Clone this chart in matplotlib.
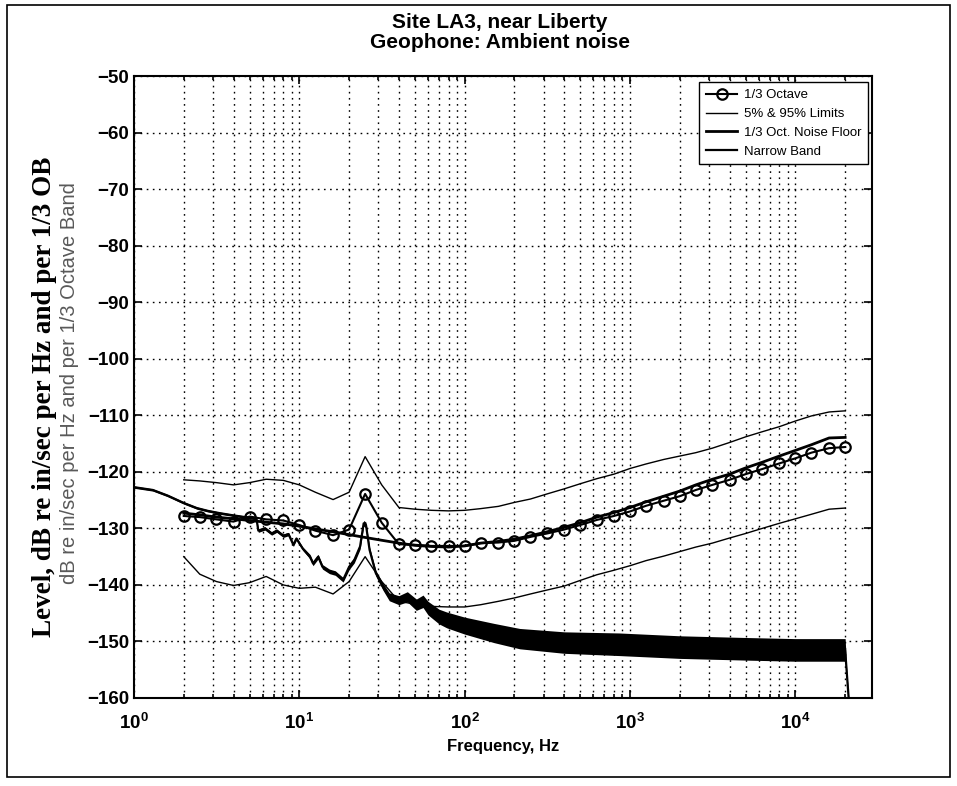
import numpy as np
import matplotlib
matplotlib.use('Agg')
import matplotlib.pyplot as plt
from matplotlib.patches import Rectangle

plt.rcParams['font.family'] = ['Liberation Sans', 'DejaVu Sans']
plt.rcParams['mathtext.fontset'] = 'custom'
plt.rcParams['mathtext.rm'] = 'Liberation Sans'
plt.rcParams['mathtext.bf'] = 'Liberation Sans:bold'

# 1/3 octave band centre frequencies, Hz
band_freq = [2, 2.5, 3.15, 4, 5, 6.3, 8, 10, 12.5, 16, 20, 25, 31.5, 40, 50, 63, 80,
             100, 125, 160, 200, 250, 315, 400, 500, 630, 800, 1000, 1250, 1600, 2000,
             2500, 3150, 4000, 5000, 6300, 8000, 10000, 12500, 16000, 20000]
third_oct = [-127.8, -128.0, -128.4, -128.8, -127.9, -128.4, -128.6, -129.4, -130.4, -131.2,
             -130.2, -123.9, -129.0, -132.8, -132.9, -133.1, -133.1, -133.1, -132.6, -132.5,
             -132.2, -131.5, -130.9, -130.2, -129.4, -128.5, -127.8, -127.0, -126.0, -125.1,
             -124.3, -123.2, -122.3, -121.4, -120.4, -119.5, -118.5, -117.6, -116.6, -115.8,
             -115.6]
lim95 = [-121.4, -121.6, -121.9, -122.3, -121.9, -121.3, -121.5, -122.3, -123.6, -124.9,
         -123.6, -117.3, -122.3, -126.3, -126.6, -126.8, -126.9, -126.8, -126.5, -126.1,
         -125.4, -124.8, -123.9, -123.0, -122.1, -121.2, -120.4, -119.4, -118.6, -117.8,
         -117.2, -116.6, -115.8, -114.8, -113.8, -112.9, -112.0, -111.0, -110.1, -109.4,
         -109.2]
lim5 = [-135.0, -138.1, -139.4, -140.1, -139.6, -138.5, -140.0, -140.6, -140.4, -141.6,
        -139.4, -135.0, -139.4, -142.9, -143.4, -143.8, -143.9, -143.9, -143.5, -142.9,
        -142.3, -141.6, -140.9, -140.2, -139.2, -138.2, -137.4, -136.6, -135.7, -134.9,
        -134.1, -133.3, -132.6, -131.7, -130.9, -130.0, -129.1, -128.3, -127.5, -126.6,
        -126.4]
noise_floor = [-127.3, -127.6, -128.0, -128.3, -128.6, -128.9, -129.2, -129.6, -130.1, -130.6,
               -131.1, -131.6, -132.1, -132.6, -133.0, -133.2, -133.3, -133.1, -132.6, -132.3,
               -131.9, -131.3, -130.6, -129.8, -129.0, -128.0, -127.2, -126.3, -125.3, -124.3,
               -123.4, -122.3, -121.3, -120.4, -119.3, -118.3, -117.2, -116.2, -115.2, -114.0,
               -113.9]

# narrow band spectrum (centre of the trace and half width of its noise)
nb_freq = [1, 1.3, 1.6, 2.0, 2.4, 2.8, 3.3, 4.0, 4.7, 5.5, 5.65, 6.2, 6.8, 7.3, 8.0, 8.6,
           9.2, 9.6, 10.5, 11.6, 12.1, 13.0, 13.8, 15.2, 16.5, 18.4, 20.0, 21.5, 23.3, 24.5,
           25.3, 26.6, 29, 32, 35, 40, 45, 51, 56, 60, 70, 78, 100, 150, 215, 400, 860, 2000,
           5000, 10000, 15000, 20000, 20400, 21000, 21700]
nb_level = [-122.7, -123.2, -124.2, -125.5, -126.4, -126.9, -127.3, -127.7, -128.0, -128.2,
            -130.4, -130.0, -130.9, -130.4, -131.3, -131.0, -132.9, -131.8, -133.6, -135.0,
            -136.2, -135.0, -136.8, -137.6, -137.9, -139.1, -136.8, -135.6, -133.2, -129.1,
            -129.4, -133.8, -137.9, -140.3, -142.1, -142.7, -142.1, -143.5, -142.9, -144.1,
            -145.6, -146.2, -147.2, -148.5, -149.5, -150.2, -150.5, -151.0, -151.3, -151.5,
            -151.5, -151.5, -155.0, -160.0, -165.0]
nb_spread = [0.2, 0.2, 0.2, 0.2, 0.2, 0.2, 0.2, 0.2, 0.2, 0.3, 0.3, 0.3, 0.3, 0.3, 0.3, 0.3,
             0.3, 0.3, 0.3, 0.4, 0.4, 0.4, 0.4, 0.4, 0.4, 0.4, 0.5, 0.5, 0.5, 0.5, 0.5, 0.5,
             0.5, 0.6, 0.7, 0.8, 0.9, 1.0, 1.1, 1.2, 1.3, 1.4, 1.5, 1.7, 1.8, 1.9, 2.0, 2.0,
             2.0, 2.0, 2.0, 2.0, 0.5, 0.3, 0.3]

fig = plt.figure(figsize=(9.57, 7.86), dpi=100)
ax = fig.add_axes([0.140, 0.112, 0.771, 0.791])

nb_f = np.array(nb_freq)
nb_l = np.array(nb_level)
nb_s = np.array(nb_spread)
ax.fill_between(nb_f, nb_l - nb_s, nb_l + nb_s, color='black', lw=0)
ax.plot(band_freq, third_oct, '-o', color='black', lw=1.5, ms=7.5, mfc='none', mew=1.6,
        label='1/3 Octave')
ax.plot(band_freq, lim95, '-', color='black', lw=1.0, label='5% & 95% Limits')
ax.plot(band_freq, lim5, '-', color='black', lw=1.0)
ax.plot(band_freq, noise_floor, '-', color='black', lw=2.0, label='1/3 Oct. Noise Floor')
ax.plot(nb_f, nb_l, '-', color='black', lw=1.6, label='Narrow Band')

ax.set_xscale('log')
ax.set_xlim(1, 2.9e4)
ax.set_ylim(-160, -50)
ax.set_yticks(np.arange(-160, -49, 10))
ax.set_xticks([1, 10, 100, 1000, 10000])
ax.set_xticklabels([r'$\mathbf{10^{%d}}$' % k for k in range(5)])
dots = (0, (1.2, 3.2))
ax.grid(True, which='major', axis='both', linestyle=dots, color='black', lw=1.0)
ax.grid(True, which='minor', axis='x', linestyle=dots, color='black', lw=1.0)
ax.tick_params(which='both', direction='in', top=True, right=True, width=1.2)
ax.tick_params(which='major', length=6, labelsize=13.5)
ax.tick_params(which='minor', length=3)
ax.tick_params(axis='x', which='major', pad=11)
for lab in ax.get_yticklabels():
    lab.set_fontweight('bold')
for sp in ax.spines.values():
    sp.set_linewidth(1.5)

fig.text(0.522, 1 - 23 / 786, 'Site LA3, near Liberty', fontsize=15, fontweight='bold',
         ha='center', va='center')
fig.text(0.522, 1 - 43 / 786, 'Geophone: Ambient noise', fontsize=15, fontweight='bold',
         ha='center', va='center')
ax.set_xlabel('Frequency, Hz', fontsize=12, fontweight='bold', labelpad=4)
ax.set_ylabel('Level, dB re in/sec per Hz and per 1/3 OB', fontsize=19.5,
              fontweight='bold', family='Liberation Serif')
ax.yaxis.set_label_coords((45 - 134) / 738, (698 - 397) / 622)
ax.yaxis.label.set_va('center')
fig.text(70 / 957, 1 - 383 / 786, 'dB re in/sec per Hz and per 1/3 Octave Band', rotation=90,
         fontsize=14.5, color='0.35', ha='center', va='center')

leg = ax.legend(loc='upper right', bbox_to_anchor=(0.995, 0.99), borderaxespad=0,
                fancybox=False, framealpha=1, edgecolor='black', fontsize=9.5,
                handlelength=2.4, handletextpad=0.5, labelspacing=0.5, borderpad=0.5)
leg.get_frame().set_linewidth(1.0)

fig.patches.append(Rectangle((0.007, 0.011), 0.986, 0.983, transform=fig.transFigure,
                             fill=False, edgecolor='black', lw=1.2))

fig.savefig('out.png', dpi=100)
